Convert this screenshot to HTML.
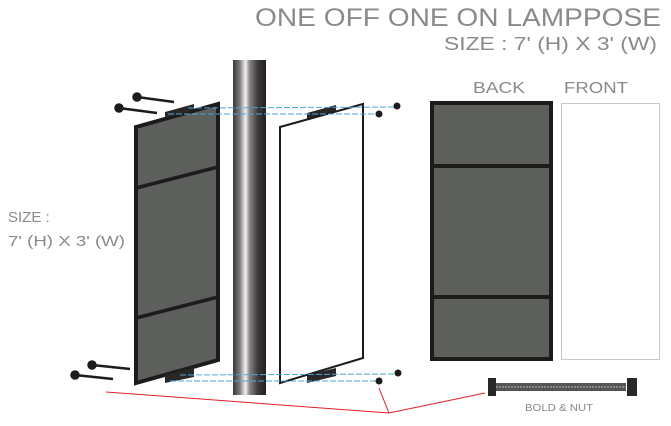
<!DOCTYPE html>
<html><head><style>
body{margin:0;background:#fff;width:671px;height:421px;overflow:hidden;font-family:"Liberation Sans",sans-serif}
</style></head><body>
<svg width="671" height="421" xmlns="http://www.w3.org/2000/svg">
<defs>
<linearGradient id="pole" x1="0" x2="1" y1="0" y2="0">
<stop offset="0" stop-color="#3a3838"/><stop offset="0.2" stop-color="#7a7878"/><stop offset="0.38" stop-color="#f4f4f4"/><stop offset="0.5" stop-color="#8a8686"/><stop offset="0.75" stop-color="#3e3a3a"/><stop offset="1" stop-color="#231f1f"/>
</linearGradient>
</defs>
<g font-family="Liberation Sans, sans-serif" fill="#8a8a8a">
<text x="255" y="26" font-size="25" textLength="406" lengthAdjust="spacingAndGlyphs">ONE OFF ONE ON LAMPPOSE</text>
<text x="444" y="50" font-size="18" textLength="213" lengthAdjust="spacingAndGlyphs">SIZE : 7' (H) X 3' (W)</text>
<text x="473" y="93" font-size="16" textLength="52" lengthAdjust="spacingAndGlyphs">BACK</text>
<text x="564" y="93" font-size="16" textLength="64" lengthAdjust="spacingAndGlyphs">FRONT</text>
<text x="8" y="222" font-size="15">SIZE :</text>
<text x="8" y="246" font-size="15" textLength="117" lengthAdjust="spacingAndGlyphs">7' (H) X 3' (W)</text>
<text x="525" y="411" font-size="10" textLength="68" lengthAdjust="spacingAndGlyphs">BOLD &amp; NUT</text>
</g>
<rect x="233" y="60" width="33" height="335" fill="url(#pole)"/>
<polygon points="136,127 218,104 218,360 136,383" fill="#5d5f5d" stroke="#1e1b1b" stroke-width="4"/>
<line x1="136" y1="188" x2="218" y2="167" stroke="#1e1b1b" stroke-width="3.5"/>
<line x1="136" y1="318" x2="218" y2="297" stroke="#1e1b1b" stroke-width="3.5"/>
<polygon points="165,112 194,104 194,110 165,118" fill="#2a2727"/>
<polygon points="165,375 194,368 194,377 165,383" fill="#2a2727"/>
<polygon points="307,113 336,105 336,111 307,119" fill="#2a2727"/>
<polygon points="307,375 336,368 336,376 307,383" fill="#2a2727"/>
<polygon points="280,127 363,104 363,358 280,383" fill="#fff" stroke="#1e1b1b" stroke-width="2"/>
<g stroke="#4aa8d8" stroke-width="1" stroke-dasharray="6,2">
<line x1="188" y1="108" x2="396" y2="107"/>
<line x1="168" y1="114" x2="378" y2="114"/>
<line x1="180" y1="375" x2="396" y2="374"/>
<line x1="170" y1="381" x2="378" y2="381"/>
</g>
<g stroke="#1e1b1b" stroke-width="2.5" fill="#1e1b1b">
<line x1="137" y1="97" x2="174" y2="102"/><circle cx="137" cy="97" r="3.5"/>
<line x1="119" y1="108" x2="157" y2="113"/><circle cx="119" cy="108" r="3.5"/>
<line x1="92" y1="365" x2="130" y2="369"/><circle cx="92" cy="365" r="3.5"/>
<line x1="75" y1="375" x2="113" y2="379"/><circle cx="75" cy="375" r="3.5"/>
</g>
<g fill="#1e1b1b">
<circle cx="397" cy="106" r="3.5"/><circle cx="379" cy="114" r="3.5"/>
<circle cx="398" cy="373" r="3.5"/><circle cx="379" cy="381" r="3.5"/>
</g>
<rect x="432" y="103" width="119" height="256" fill="#5d5f5d" stroke="#1e1b1b" stroke-width="4"/>
<line x1="432" y1="166" x2="551" y2="166" stroke="#1e1b1b" stroke-width="4"/>
<line x1="432" y1="297" x2="551" y2="297" stroke="#1e1b1b" stroke-width="4"/>
<rect x="561.5" y="103.5" width="98" height="256" fill="#fff" stroke="#c8c8c8" stroke-width="1"/>
<rect x="488" y="378" width="8" height="18" fill="#2a2727"/>
<rect x="496" y="383" width="130" height="8" fill="#555"/>
<line x1="496" y1="387" x2="626" y2="387" stroke="#888" stroke-width="2" stroke-dasharray="2,1"/>
<rect x="627" y="378" width="10" height="18" fill="#2a2727"/>
<polyline points="106,392 389,413 485,393" fill="none" stroke="#e21f26" stroke-width="1"/>
<line x1="389" y1="413" x2="379" y2="388" stroke="#e21f26" stroke-width="1"/>
</svg>
</body></html>
